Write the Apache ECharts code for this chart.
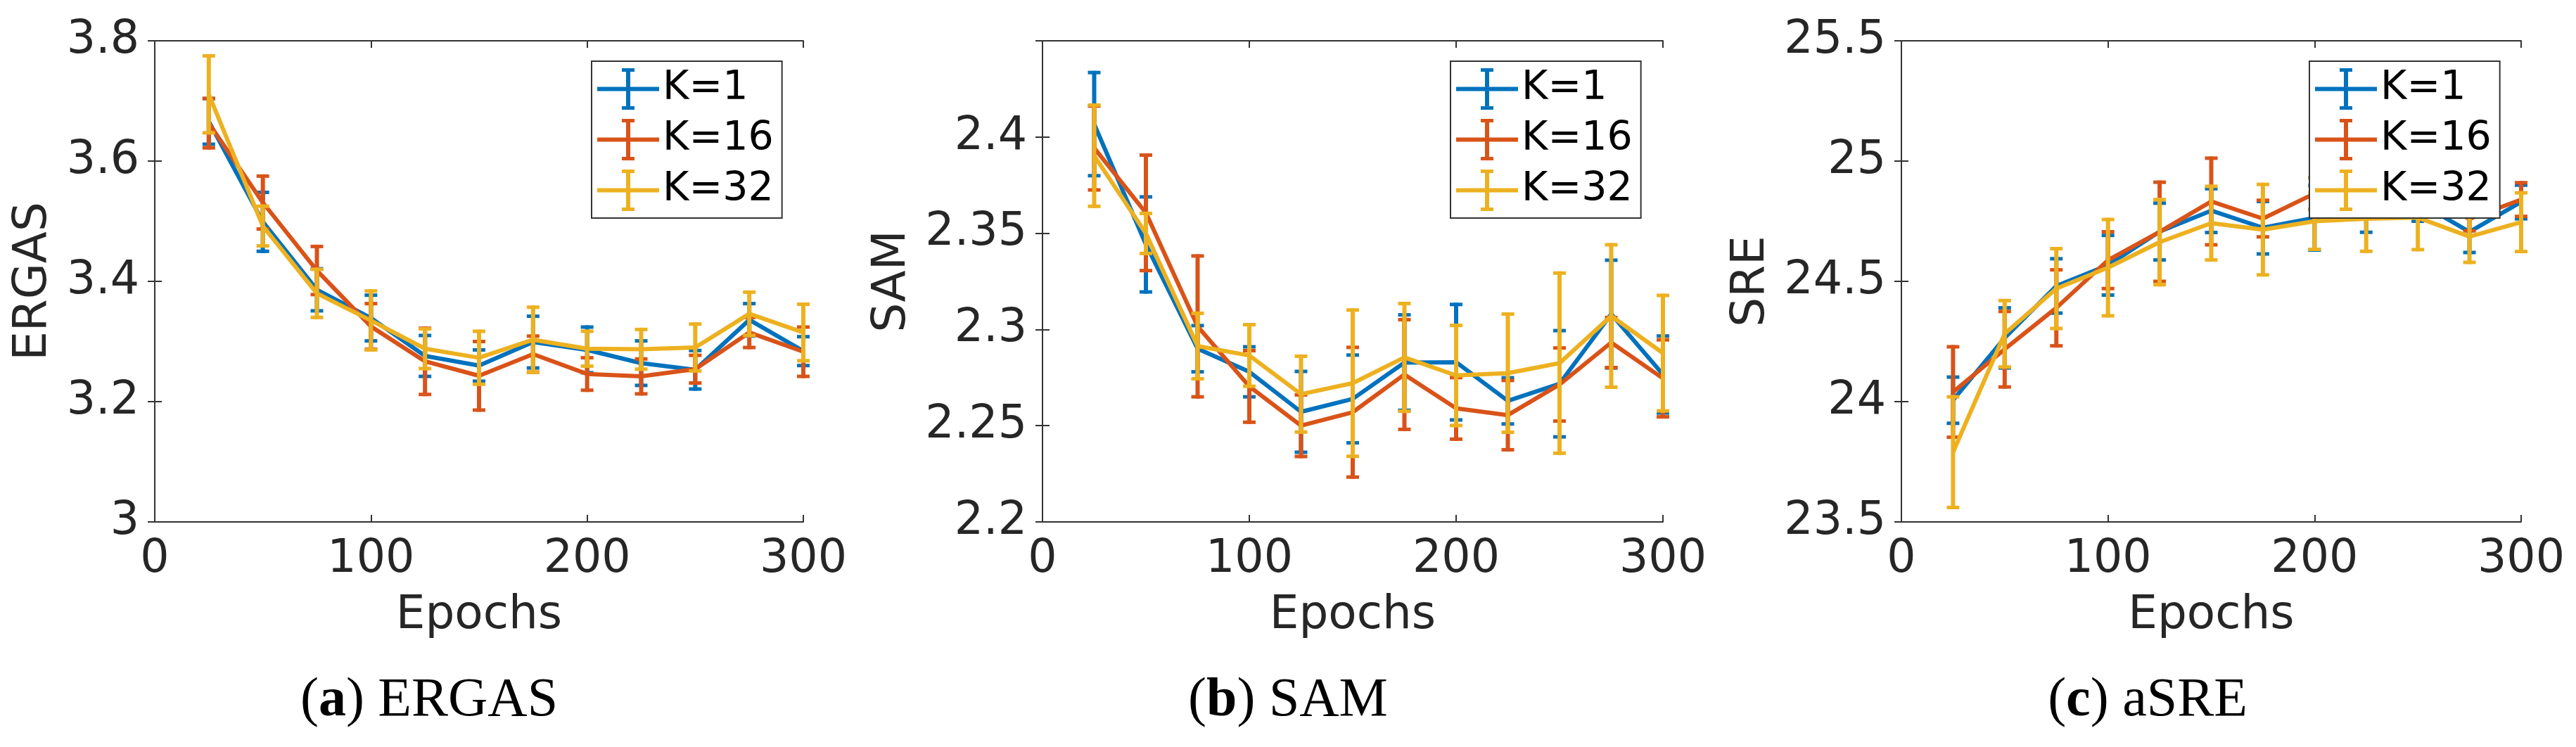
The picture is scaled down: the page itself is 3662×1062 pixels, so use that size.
<!DOCTYPE html>
<html>
<head>
<meta charset="utf-8">
<script src="https://cdn.jsdelivr.net/npm/echarts@6/dist/echarts.min.js"></script>
<style>
    html, body { margin: 0; padding: 0; background: #fff; }
    #chart { width: 3662px; height: 1062px; }
</style>
</head>
<body>
<div id="chart"></div>
<script>
// x positions (epochs)
var epochs = [25, 50, 75, 100, 125, 150, 175, 200, 225, 250, 275, 300];
var seriesNames = ['K=1', 'K=16', 'K=32'];
var xTicks = [0, 100, 200, 300];

// (a) ERGAS: mean and half error bar
var ergasK1 = [3.666, 3.499, 3.386, 3.339, 3.276, 3.260, 3.299, 3.286, 3.264, 3.253, 3.336, 3.284];
var ergasK1Err = [0.038, 0.049, 0.035, 0.038, 0.034, 0.026, 0.043, 0.038, 0.037, 0.032, 0.027, 0.024];
var ergasK16 = [3.663, 3.531, 3.418, 3.325, 3.267, 3.243, 3.279, 3.246, 3.242, 3.254, 3.315, 3.283];
var ergasK16Err = [0.041, 0.044, 0.040, 0.038, 0.055, 0.057, 0.030, 0.027, 0.029, 0.023, 0.025, 0.041];
var ergasK32 = [3.711, 3.492, 3.380, 3.335, 3.288, 3.273, 3.303, 3.288, 3.287, 3.290, 3.346, 3.315];
var ergasK32Err = [0.064, 0.033, 0.040, 0.049, 0.033, 0.044, 0.054, 0.029, 0.033, 0.039, 0.036, 0.047];
var ergasTicks = [3, 3.2, 3.4, 3.6, 3.8];

// (b) SAM
var samK1 = [2.4067, 2.3442, 2.2900, 2.2780, 2.2572, 2.2639, 2.2828, 2.2830, 2.2629, 2.2718, 2.3080, 2.2766];
var samK1Err = [0.0268, 0.0247, 0.0120, 0.0130, 0.0210, 0.0228, 0.0248, 0.0300, 0.0120, 0.0276, 0.0280, 0.0200];
var samK16 = [2.3943, 2.3606, 2.3016, 2.2704, 2.2500, 2.2570, 2.2766, 2.2590, 2.2555, 2.2714, 2.2932, 2.2746];
var samK16Err = [0.0218, 0.0300, 0.0366, 0.0186, 0.0160, 0.0337, 0.0285, 0.0160, 0.0180, 0.0190, 0.0130, 0.0200];
var samK32 = [2.3903, 2.3499, 2.2914, 2.2865, 2.2664, 2.2721, 2.2855, 2.2761, 2.2773, 2.2825, 2.3070, 2.2877];
var samK32Err = [0.0263, 0.0104, 0.0170, 0.0160, 0.0197, 0.0380, 0.0280, 0.0260, 0.0307, 0.0468, 0.0370, 0.0300];
var samTicks = [2.2, 2.25, 2.3, 2.35, 2.4];

// (c) aSRE
var sreK1 = [24.006, 24.265, 24.481, 24.567, 24.707, 24.794, 24.723, 24.764, 24.780, 24.830, 24.706, 24.830];
var sreK1Err = [0.096, 0.125, 0.113, 0.124, 0.118, 0.091, 0.109, 0.134, 0.076, 0.080, 0.086, 0.070];
var sreK16 = [24.040, 24.218, 24.390, 24.588, 24.706, 24.832, 24.761, 24.865, 24.900, 24.860, 24.760, 24.840];
var sreK16Err = [0.188, 0.157, 0.158, 0.118, 0.206, 0.180, 0.076, 0.066, 0.080, 0.090, 0.050, 0.070];
var sreK32 = [23.790, 24.282, 24.470, 24.557, 24.663, 24.742, 24.715, 24.750, 24.760, 24.765, 24.686, 24.746];
var sreK32Err = [0.230, 0.138, 0.166, 0.200, 0.177, 0.153, 0.188, 0.117, 0.135, 0.133, 0.107, 0.122];
var sreTicks = [23.5, 24, 24.5, 25, 25.5];

var colors = ['#0072BD', '#D95319', '#EDB120'];
var textColor = '#262626';
var axisColor = '#333';
var fontName = 'DejaVu Sans';

var panels = [
    {
        left: 220, width: 922, yName: 'ERGAS', yGap: 139, ticks: ergasTicks, max: 3.8,
        legendLeft: 841, tag: 'a', caption: 'ERGAS', captionX: 610,
        means: [ergasK1, ergasK16, ergasK32], errs: [ergasK1Err, ergasK16Err, ergasK32Err]
    },
    {
        left: 1482, width: 882, yName: 'SAM', yGap: 180, ticks: samTicks, max: 2.45,
        legendLeft: 2062, tag: 'b', caption: 'SAM', captionX: 1831,
        means: [samK1, samK16, samK32], errs: [samK1Err, samK16Err, samK32Err]
    },
    {
        left: 2703, width: 881, yName: 'SRE', yGap: 180, ticks: sreTicks, max: 25.5,
        legendLeft: 3283, tag: 'c', caption: 'aSRE', captionX: 3053,
        means: [sreK1, sreK16, sreK32], errs: [sreK1Err, sreK16Err, sreK32Err]
    }
];

// legend icon: horizontal line crossed by an error bar
var legendIcon = 'path://M0,26.5h88v6h-88z M41,0h6v59h-6z M35,0h18v5h-18z M35,54h18v5h-18z';

var barStyle = function(color, w) {
    return { stroke: color, lineWidth: w, lineCap: 'butt' };
};

var renderErrorBar = function(params, api) {
    var x = api.value(0);
    var m = api.value(1);
    var e = api.value(2);
    var top = api.coord([x, m + e]);
    var bot = api.coord([x, m - e]);
    var color = api.visual('color');
    var half = 9;
    return {
        type: 'group',
        children: [
            { type: 'line', shape: { x1: top[0], y1: top[1] - 2.5, x2: bot[0], y2: bot[1] + 2.5 }, style: barStyle(color, 6) },
            { type: 'line', shape: { x1: top[0] - half, y1: top[1], x2: top[0] + half, y2: top[1] }, style: barStyle(color, 5) },
            { type: 'line', shape: { x1: bot[0] - half, y1: bot[1], x2: bot[0] + half, y2: bot[1] }, style: barStyle(color, 5) }
        ]
    };
};

var axisLineStyle = { show: true, lineStyle: { color: axisColor, width: 2 } };
var tickStyle = { show: true, inside: true, length: 10, lineStyle: { color: axisColor, width: 2 } };

var grids = [], xAxes = [], yAxes = [], series = [], legends = [], graphics = [];

panels.forEach(function(p, i) {
    var step = Math.round((p.ticks[1] - p.ticks[0]) * 1000) / 1000;

    grids.push({ left: p.left, top: 58, width: p.width, height: 684 });

    xAxes.push({
        gridIndex: i, type: 'value', position: 'bottom',
        min: xTicks[0], max: xTicks[xTicks.length - 1], interval: xTicks[1] - xTicks[0],
        name: 'Epochs', nameLocation: 'middle', nameGap: 101,
        nameTextStyle: { color: textColor, fontSize: 66, fontFamily: fontName },
        axisLine: axisLineStyle, axisTick: tickStyle,
        axisLabel: { color: textColor, fontSize: 65, fontFamily: fontName, margin: 22 },
        splitLine: { show: false }
    });
    xAxes.push({
        gridIndex: i, type: 'value', position: 'top',
        min: xTicks[0], max: xTicks[xTicks.length - 1], interval: xTicks[1] - xTicks[0],
        axisLine: axisLineStyle, axisTick: tickStyle,
        axisLabel: { show: false }, splitLine: { show: false }
    });

    yAxes.push({
        gridIndex: i, type: 'value', position: 'left',
        min: p.ticks[0], max: p.max, interval: step,
        name: p.yName, nameLocation: 'middle', nameGap: p.yGap,
        nameTextStyle: { color: textColor, fontSize: 66, fontFamily: fontName },
        axisLine: axisLineStyle, axisTick: tickStyle,
        axisLabel: {
            color: textColor, fontSize: 65, fontFamily: fontName, margin: 22,
            showMaxLabel: p.ticks[p.ticks.length - 1] === p.max
        },
        splitLine: { show: false }
    });
    yAxes.push({
        gridIndex: i, type: 'value', position: 'right',
        min: p.ticks[0], max: p.max, interval: step,
        axisLine: axisLineStyle, axisTick: tickStyle,
        axisLabel: { show: false }, splitLine: { show: false }
    });

    seriesNames.forEach(function(name, k) {
        var means = p.means[k];
        var errs = p.errs[k];
        series.push({
            name: name,
            type: 'custom',
            xAxisIndex: i * 2,
            yAxisIndex: i * 2,
            color: colors[k],
            renderItem: renderErrorBar,
            encode: { x: 0, y: 1 },
            data: epochs.map(function(x, j) { return [x, means[j], errs[j]]; }),
            z: 2 + k,
            silent: true
        });
        series.push({
            name: name,
            type: 'line',
            xAxisIndex: i * 2,
            yAxisIndex: i * 2,
            color: colors[k],
            symbol: 'none',
            lineStyle: { color: colors[k], width: 6 },
            data: epochs.map(function(x, j) { return [x, means[j]]; }),
            z: 2 + k,
            animation: false
        });
    });

    legends.push({
        data: seriesNames,
        orient: 'vertical',
        left: p.legendLeft,
        top: 87,
        padding: [10, 12, 10, 8],
        itemGap: 13,
        itemWidth: 88,
        itemHeight: 59,
        icon: legendIcon,
        backgroundColor: '#fff',
        borderColor: axisColor,
        borderWidth: 2,
        selectedMode: false,
        z: 20,
        textStyle: { color: '#000', fontSize: 57, fontFamily: fontName }
    });

    graphics.push({
        type: 'text',
        x: p.captionX,
        y: 997,
        style: {
            text: '({b|' + p.tag + '}) ' + p.caption,
            fill: '#000',
            fontSize: 78,
            fontFamily: 'Liberation Serif',
            textAlign: 'center',
            textVerticalAlign: 'middle',
            rich: { b: { fontSize: 78, fontFamily: 'Liberation Serif', fontWeight: 'bold', fill: '#000' } }
        }
    });
});

var myChart = echarts.init(document.getElementById('chart'));
myChart.setOption({
    animation: false,
    backgroundColor: '#fff',
    grid: grids,
    xAxis: xAxes,
    yAxis: yAxes,
    legend: legends,
    series: series,
    graphic: graphics
});
</script>
</body>
</html>
